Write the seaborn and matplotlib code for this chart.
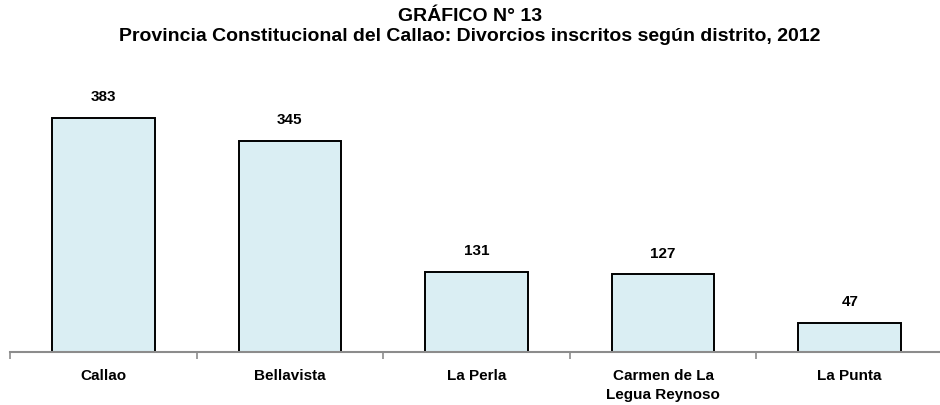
import matplotlib
matplotlib.use("Agg")
import matplotlib.pyplot as plt
import seaborn as sns
import pandas as pd

distritos = ["Callao", "Bellavista", "La Perla", "Carmen de La\nLegua Reynoso", "La Punta"]
divorcios = [383, 345, 131, 127, 47]

titulo = "GRÁFICO N° 13\nProvincia Constitucional del Callao: Divorcios inscritos según distrito, 2012"

sns.set_style("white")
plt.rcParams["font.family"] = ["Liberation Sans", "DejaVu Sans"]
plt.rcParams["text.color"] = "black"
plt.rcParams["xtick.color"] = "black"

df = pd.DataFrame({"distrito": distritos, "divorcios": divorcios})

fig = plt.figure(figsize=(9.4, 4.05), dpi=100)
ax = fig.add_axes([10 / 940, 53 / 405, 933 / 940, 275 / 405])

sns.barplot(data=df, x="distrito", y="divorcios", ax=ax, color="#DAEEF3",
            edgecolor="black", linewidth=1.4, width=0.55, saturation=1)

# etiquetas de valor encima de cada barra
for i, v in enumerate(divorcios):
    ax.annotate(str(v), (i, v), xytext=(0, 10), textcoords="offset points",
                ha="center", va="bottom", fontsize=11, fontweight="bold", color="black")

ax.set_xlim(-0.5, len(distritos) - 0.5)
ax.set_ylim(0, 450)
ax.set_xlabel("")
ax.set_ylabel("")
ax.set_yticks([])
ax.set_xticks(range(len(distritos)))
ax.set_xticklabels(distritos, fontsize=11, fontweight="bold", linespacing=1.45, color="black")
ax.set_xticks([i - 0.5 for i in range(len(distritos) + 1)], minor=True)
ax.tick_params(axis="x", which="major", length=0, pad=12)
ax.tick_params(axis="x", which="minor", bottom=True, length=5, width=1.2,
               color="#8c8c8c", direction="out")

for s in ["top", "right", "left"]:
    ax.spines[s].set_visible(False)
ax.spines["bottom"].set_color("#8c8c8c")
ax.spines["bottom"].set_linewidth(1.5)

fig.suptitle(titulo, y=0.98, fontsize=14, fontweight="bold", linespacing=1.2, color="black")

fig.savefig("out.png", dpi=100)
